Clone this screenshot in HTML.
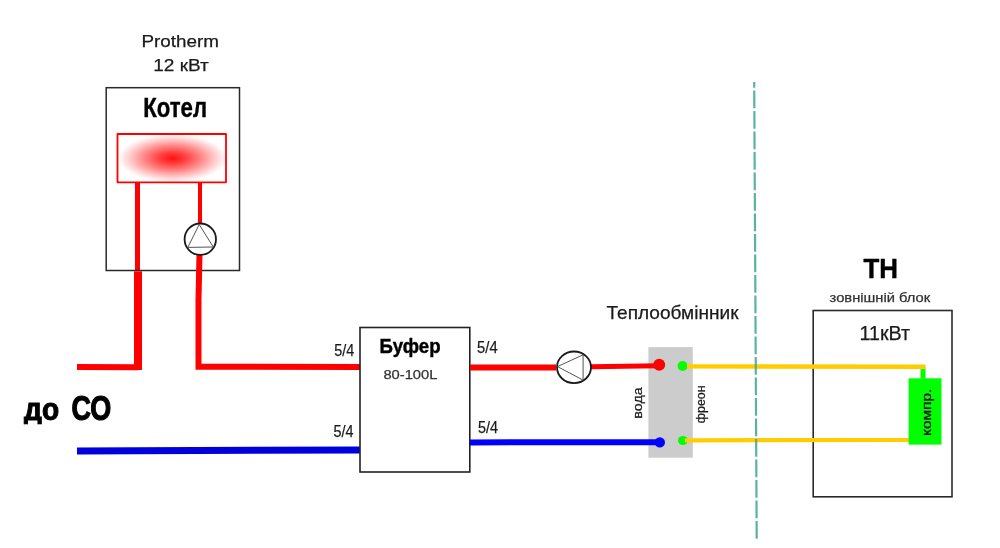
<!DOCTYPE html>
<html>
<head>
<meta charset="utf-8">
<style>
html,body{margin:0;padding:0;background:#fff;width:1000px;height:548px;overflow:hidden;}
svg{display:block;will-change:transform;}
text{font-family:"Liberation Sans",sans-serif;}
</style>
</head>
<body>
<svg width="1000" height="548" viewBox="0 0 1000 548">
<defs>
<radialGradient id="heat" cx="172.5" cy="158.2" r="54" gradientUnits="userSpaceOnUse" gradientTransform="translate(172.5 158.2) scale(1 0.44) translate(-172.5 -158.2)">
<stop offset="0" stop-color="#ff1010" stop-opacity="1"/>
<stop offset="0.25" stop-color="#ff2020" stop-opacity="0.85"/>
<stop offset="0.5" stop-color="#ff2a2a" stop-opacity="0.6"/>
<stop offset="0.75" stop-color="#ff3030" stop-opacity="0.3"/>
<stop offset="1" stop-color="#ff3030" stop-opacity="0"/>
</radialGradient>
</defs>
<rect width="1000" height="548" fill="#fff"/>

<!-- Texts top -->
<text x="141.5" y="46.6" font-size="17" fill="#1a1a1a" stroke="#1a1a1a" stroke-width="0.25" textLength="77.5" lengthAdjust="spacingAndGlyphs">Protherm</text>
<text x="153.3" y="70.7" font-size="17" fill="#1a1a1a" stroke="#1a1a1a" stroke-width="0.25" textLength="55.5" lengthAdjust="spacingAndGlyphs">12 кВт</text>

<!-- Kotel box -->
<text x="143.3" y="117" font-size="28" font-weight="bold" fill="#000" stroke="#000" stroke-width="0.45" textLength="63.7" lengthAdjust="spacingAndGlyphs">Котел</text>
<!-- heater -->
<rect x="117.5" y="134" width="108.5" height="48.3" fill="url(#heat)" stroke="#ff0000" stroke-width="1.8" stroke-linejoin="round"/>

<!-- red pipes from boiler -->
<path d="M137.5 183 L137.5 271" stroke="#ff0000" stroke-width="5" fill="none"/>
<rect x="106.2" y="87.7" width="133.3" height="182.8" fill="none" stroke="#2a2a2a" stroke-width="1.5"/>
<path d="M77 367 L138 367.2" stroke="#ff0000" stroke-width="6" fill="none"/>
<path d="M138 271.3 L138 370" stroke="#ff0000" stroke-width="8" fill="none"/>
<path d="M200 183 L200 224" stroke="#ff0000" stroke-width="4" fill="none"/>
<path d="M199.5 254 L198.5 300 L198.5 366.8 L360 367" stroke="#ff0000" stroke-width="6" fill="none" stroke-linejoin="miter" stroke-linecap="butt"/>

<!-- pump 1 -->
<circle cx="200.3" cy="239.2" r="15.7" fill="none" stroke="#1a1a1a" stroke-width="1.8"/>
<path d="M199.2 224.5 L187.8 247.4 L213.3 247 Z" fill="none" stroke="#555" stroke-width="1"/>

<!-- до СО -->
<clipPath id="doclip"><rect x="0" y="380" width="200" height="44.2"/></clipPath>
<text clip-path="url(#doclip)" x="24.1" y="420.3" font-size="32" font-weight="bold" fill="#000" stroke="#000" stroke-width="1.1" textLength="35" lengthAdjust="spacingAndGlyphs">до</text>
<text x="71.5" y="420.4" font-size="34.5" font-weight="bold" fill="#000" stroke="#000" stroke-width="1.1" textLength="39.8" lengthAdjust="spacingAndGlyphs">СО</text>

<!-- blue left -->
<path d="M77 451 L360 450" stroke="#0000dd" stroke-width="7" fill="none"/>

<!-- buffer -->
<rect x="360" y="327.5" width="109.8" height="144.5" fill="#fff" stroke="#222" stroke-width="1.6"/>
<text x="379.5" y="353" font-size="21" font-weight="bold" fill="#000" stroke="#000" stroke-width="0.45" textLength="61" lengthAdjust="spacingAndGlyphs">Буфер</text>
<text x="383.4" y="378.8" font-size="13" fill="#333" stroke="#333" stroke-width="0.25" textLength="54" lengthAdjust="spacingAndGlyphs">80-100L</text>

<text x="334.3" y="355.8" font-size="17" fill="#1a1a1a" stroke="#1a1a1a" stroke-width="0.25" textLength="20" lengthAdjust="spacingAndGlyphs">5/4</text>
<text x="477.1" y="352.7" font-size="17" fill="#1a1a1a" stroke="#1a1a1a" stroke-width="0.25" textLength="20.5" lengthAdjust="spacingAndGlyphs">5/4</text>
<text x="333.5" y="437.1" font-size="17" fill="#1a1a1a" stroke="#1a1a1a" stroke-width="0.25" textLength="20" lengthAdjust="spacingAndGlyphs">5/4</text>
<text x="478.1" y="432.7" font-size="17" fill="#1a1a1a" stroke="#1a1a1a" stroke-width="0.25" textLength="20" lengthAdjust="spacingAndGlyphs">5/4</text>

<!-- red right of buffer -->
<rect x="648.4" y="347.1" width="44.4" height="110.6" fill="#cccccc"/>

<path d="M470 367.6 L556 367.6" stroke="#ff0000" stroke-width="6" fill="none"/>
<path d="M591 366.7 L659 365.8" stroke="#ff0000" stroke-width="5" fill="none"/>
<!-- pump 2 -->
<ellipse cx="574" cy="367.3" rx="17" ry="15.8" fill="none" stroke="#1a1a1a" stroke-width="1.8"/>
<path d="M557.5 366.6 L583.1 354.8 L583.1 380.1 Z" fill="none" stroke="#555" stroke-width="1"/>

<!-- blue right -->
<path d="M470 442.4 L660 442.2" stroke="#0000ff" stroke-width="6" fill="none"/>

<!-- heat exchanger -->
<text x="606.5" y="318.9" font-size="18.5" fill="#1a1a1a" stroke="#1a1a1a" stroke-width="0.25" textLength="132" lengthAdjust="spacingAndGlyphs">Теплообмінник</text>
<circle cx="659.2" cy="364.8" r="6" fill="#ff0000"/>
<circle cx="659.8" cy="442.4" r="5.2" fill="#0000ff"/>
<text transform="translate(642 418.7) rotate(-90)" font-size="12.5" fill="#1a1a1a" stroke="#1a1a1a" stroke-width="0.25" textLength="31.4" lengthAdjust="spacingAndGlyphs">вода</text>
<text transform="translate(705 423.2) rotate(-90)" font-size="12.5" fill="#1a1a1a" stroke="#1a1a1a" stroke-width="0.25" textLength="37.8" lengthAdjust="spacingAndGlyphs">фреон</text>

<!-- yellow lines -->
<rect x="813.2" y="310.5" width="138.8" height="186.3" fill="none" stroke="#2a2a2a" stroke-width="1.6"/>

<path d="M923 367 L923 378.5" stroke="#00ff00" stroke-width="5" fill="none"/>
<circle cx="682.6" cy="366" r="5" fill="#00ff00"/>
<ellipse cx="682.9" cy="440.5" rx="5" ry="4.6" fill="#00ff00"/>
<path d="M687 366.4 L925.5 366.8" stroke="#ffcc00" stroke-width="4.4" fill="none"/>
<path d="M685 440.3 L909 440" stroke="#ffcc00" stroke-width="4.2" fill="none"/>

<!-- TH -->
<text x="863.5" y="277.9" font-size="27" font-weight="bold" fill="#000" stroke="#000" stroke-width="0.45" textLength="34.5" lengthAdjust="spacingAndGlyphs">ТН</text>
<text x="829.6" y="302.2" font-size="12.6" fill="#333" stroke="#333" stroke-width="0.25" textLength="100.6" lengthAdjust="spacingAndGlyphs">зовнішній блок</text>
<text x="859.5" y="339.7" font-size="19.5" fill="#1a1a1a" stroke="#1a1a1a" stroke-width="0.25" textLength="50.5" lengthAdjust="spacingAndGlyphs">11кВт</text>
<rect x="908.6" y="378.3" width="32.9" height="66.3" fill="#00ff00"/>
<text transform="translate(931.3 436) rotate(-90)" font-size="13.6" fill="#111" stroke="#111" stroke-width="0.3" textLength="47.3" lengthAdjust="spacingAndGlyphs">компр.</text>

<!-- dashed line -->
<path d="M754.2 82 L756.7 539.2" stroke="#3fa490" stroke-width="2.2" fill="none" stroke-dasharray="17.9 2.6" stroke-dashoffset="12.1" opacity="0.85"/>
</svg>
</body>
</html>
